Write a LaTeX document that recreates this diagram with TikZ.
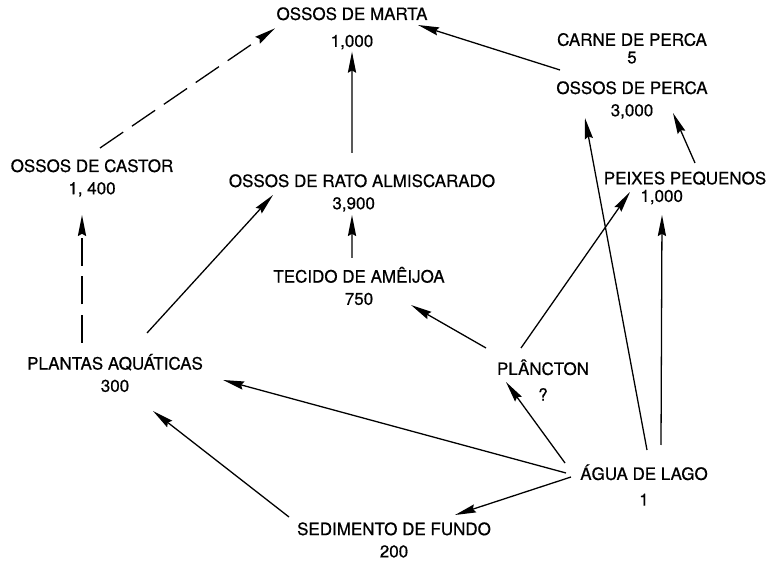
\documentclass[tikz,border=0pt]{standalone}
\usepackage{fontspec}
\setmainfont{TeX Gyre Heros}[FakeBold=0.6]
\usetikzlibrary{arrows.meta, calc}

\begin{document}
\begin{tikzpicture}[
  >={Stealth[length=18pt, width=7pt, inset=2pt]},
  pool/.style={align=center, inner sep=0pt, font=\fontsize{14.5}{19}\selectfont},
  flow/.style={->, line width=1.1pt},
  guess/.style={flow, dash pattern=on 24pt off 9pt}
]
\useasboundingbox (0,0) rectangle (22.98,16.83);
\node[pool] (marta) at (10.56,15.98) {OSSOS DE MARTA\\[4pt]1,000};
\node[pool] (carne) at (18.96,15.38) {CARNE DE PERCA\\[-4pt]5};
\node[pool] (perca) at (18.96,13.83) {OSSOS DE PERCA\\3,000};
\node[pool] (castor) at (2.76,11.49) {OSSOS DE CASTOR\\1, 400};
\node[pool] (rato) at (10.86,11.04) {OSSOS DE RATO ALMISCARADO\\3,900\hspace*{0.5cm}};
\node[pool] (peixes) at (20.55,11.19) {PEIXES PEQUENOS\\[-4pt]1,000\hspace*{1.4cm}};
\node[pool] (tecido) at (10.77,8.25) {TECIDO DE AMÊIJOA\\750};
\node[pool] (plantas) at (3.45,5.64) {PLANTAS AQUÁTICAS\\300};
\node[pool] (plancton) at (16.29,5.43) {PLÂNCTON\\[3pt]?};
\node[pool] (agua) at (19.32,2.28) {ÁGUA DE LAGO\\[3pt]1};
\node[pool] (sedimento) at (11.82,0.63) {SEDIMENTO DE FUNDO\\200};

\draw[guess] ($(castor)+(0.24,0.90)$) -- ($(marta)+(-2.31,0)$);
\draw[guess] ($(plantas)+(-0.99,0.90)$) -- ($(castor)+(-0.30,-1.11)$);
\draw[flow] ($(rato)+(-0.30,1.20)$) -- ($(marta)+(0,-0.70)$);
\draw[flow] ($(tecido)+(-0.21,0.84)$) -- ($(rato)+(-0.30,-0.66)$);
\draw[flow] ($(plantas)+(0.96,1.20)$) -- ($(rato)+(-2.67,-0.06)$);
\draw[flow] ($(perca)+(-2.16,0.90)$) -- ($(marta)+(1.98,0.10)$);
\draw[flow] ($(peixes)+(0.30,0.75)$) -- ($(perca)+(1.23,-0.39)$);
\draw[flow] ($(plancton)+(-0.66,0.96)$) -- ($(peixes)+(-1.65,-0.12)$);
\draw[flow] ($(agua)+(0.09,1.05)$) -- ($(perca)+(-1.41,-0.54)$);
\draw[flow] ($(agua)+(0.51,1.20)$) -- ($(peixes)+(-0.69,-0.81)$);
\draw[flow] ($(plancton)+(-1.71,0.96)$) -- ($(tecido)+(1.56,-0.57)$);
\draw[flow] ($(agua)+(-2.37,0.66)$) -- ($(plancton)+(-1.11,-0.06)$);
\draw[flow] ($(agua)+(-2.34,0.36)$) -- ($(plantas)+(3.24,-0.21)$);
\draw[flow] ($(agua)+(-2.19,0.24)$) -- ($(sedimento)+(1.83,0.75)$);
\draw[flow] ($(sedimento)+(-3.15,0.69)$) -- ($(plantas)+(1.14,-1.14)$);
\end{tikzpicture}
\end{document}
